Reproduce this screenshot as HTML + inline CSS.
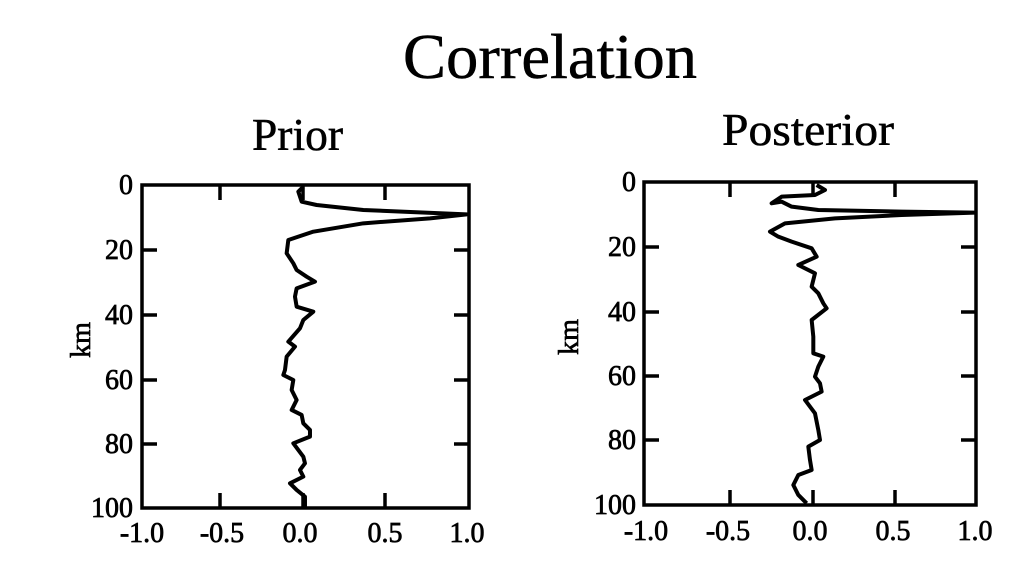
<!DOCTYPE html>
<html><head><meta charset="utf-8"><style>
html,body{margin:0;padding:0;background:#fff;}
svg{display:block;}
text{font-family:"Liberation Serif",serif;fill:#000;}
.n{stroke:#000;stroke-width:0.7;}
</style></head><body>
<svg width="1025" height="566" viewBox="0 0 1025 566" xmlns="http://www.w3.org/2000/svg">
<text class="n" x="403" y="78" font-size="64" textLength="294" lengthAdjust="spacingAndGlyphs" style="stroke-width:0.5">Correlation</text>
<text class="n" x="252" y="150" font-size="45" textLength="91" lengthAdjust="spacingAndGlyphs" style="stroke-width:0.5">Prior</text>
<text class="n" x="722" y="145" font-size="45" textLength="172" lengthAdjust="spacingAndGlyphs" style="stroke-width:0.5">Posterior</text>

<!-- Left plot -->
<g stroke="#000" stroke-width="3.5" fill="none">
<rect x="142" y="185" width="327" height="323"/>
<path d="M220 185v15M303 185v15M385 185v15M220 508v-15M303 508v-15M385 508v-15"/>
<path d="M142 250h15M142 315h15M142 380h15M142 444h15M469 250h-15M469 315h-15M469 380h-15M469 444h-15"/>
</g>
<g transform="translate(130,170) scale(0.3333)">
<path fill="none" stroke="#000" stroke-width="12" stroke-linejoin="round" d="M520 50 L505 65 L515 95 L560 105 L700 120 L1010 133 L900 145 L700 160 L550 185 L475 210 L470 250 L490 280 L500 300 L530 320 L555 335 L500 355 L495 380 L500 410 L550 425 L520 450 L510 475 L475 515 L495 530 L470 560 L465 600 L460 615 L490 630 L485 660 L500 690 L485 720 L515 735 L520 760 L540 780 L540 800 L490 820 L520 860 L525 880 L510 900 L520 920 L480 940 L500 960 L525 980 L525 1010"/>
</g>
<g class="n" font-size="28" text-anchor="end">
<text x="133" y="194">0</text><text x="133" y="259">20</text><text x="133" y="324">40</text><text x="133" y="389">60</text><text x="133" y="453">80</text><text x="133" y="517">100</text>
</g>
<g class="n" font-size="28" text-anchor="middle">
<text x="142" y="542">-1.0</text><text x="222" y="542">-0.5</text><text x="300" y="542">0.0</text><text x="385" y="542">0.5</text><text x="467" y="542">1.0</text>
</g>
<text class="n" font-size="28" text-anchor="middle" transform="translate(90,340) rotate(-90)">km</text>

<!-- Right plot -->
<g stroke="#000" stroke-width="3.5" fill="none">
<rect x="644" y="182" width="332" height="323"/>
<path d="M730 182v15M813 182v15M895 182v15M730 505v-15M813 505v-15M895 505v-15"/>
<path d="M644 247h15M644 312h15M644 376h15M644 440h15M976 247h-15M976 312h-15M976 376h-15M976 440h-15"/>
</g>
<g transform="translate(635,170) scale(0.3333)">
<path fill="none" stroke="#000" stroke-width="12" stroke-linejoin="round" d="M545 45 L570 60 L540 75 L440 80 L410 100 L440 95 L470 110 L550 120 L800 125 L1020 128 L800 135 L600 145 L450 160 L405 185 L430 200 L470 215 L530 235 L545 260 L490 285 L540 310 L530 350 L550 370 L565 400 L575 415 L530 450 L535 500 L535 550 L565 560 L550 590 L540 620 L555 640 L560 665 L510 690 L540 730 L550 780 L555 810 L520 830 L525 870 L530 900 L490 915 L475 945 L490 975 L515 1000"/>
</g>
<g class="n" font-size="28" text-anchor="end">
<text x="636" y="191">0</text><text x="636" y="256">20</text><text x="636" y="321">40</text><text x="636" y="385">60</text><text x="636" y="449">80</text><text x="636" y="514">100</text>
</g>
<g class="n" font-size="28" text-anchor="middle">
<text x="646" y="540">-1.0</text><text x="728" y="540">-0.5</text><text x="810" y="540">0.0</text><text x="893" y="540">0.5</text><text x="975" y="540">1.0</text>
</g>
<text class="n" font-size="28" text-anchor="middle" transform="translate(578,337) rotate(-90)">km</text>
</svg>
</body></html>
